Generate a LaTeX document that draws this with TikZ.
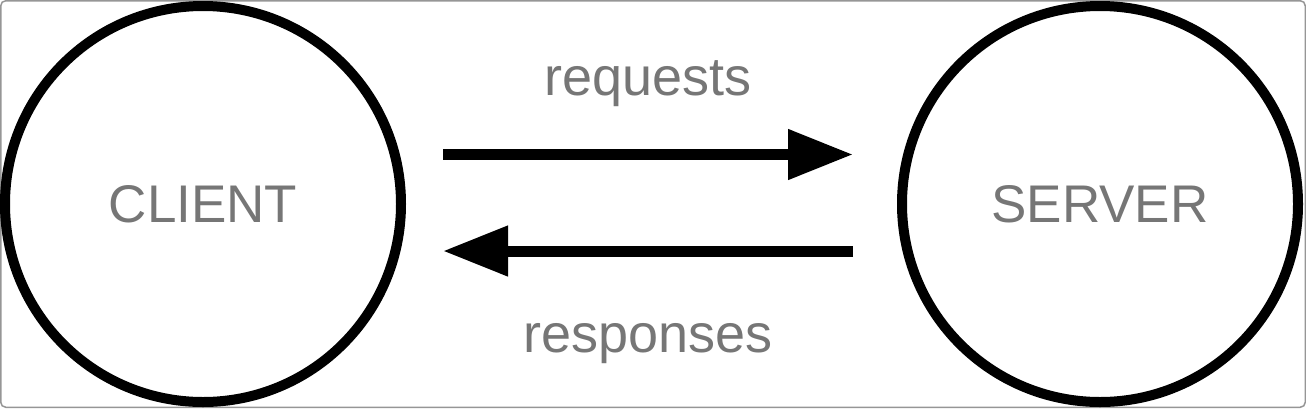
\documentclass[tikz,border=0pt]{standalone}
\usepackage{fontspec}
\setmainfont{Liberation Sans}
\usetikzlibrary{arrows.meta}
\definecolor{txtgray}{RGB}{118,118,118}
\definecolor{framegray}{RGB}{150,150,150}
\tikzset{
  party/.style={circle, draw=black, line width=10pt, minimum size=396pt, inner sep=0pt,
    text=txtgray, font=\fontsize{53pt}{60pt}\selectfont},
  msg/.style={text=txtgray, font=\fontsize{54pt}{60pt}\selectfont, anchor=base, inner sep=0pt},
  flow/.style={line width=11pt, -{Triangle[length=65pt,width=48pt]}}
}
\begin{document}
\begin{tikzpicture}[x=1pt,y=-1pt]
\useasboundingbox (0,0) rectangle (1306,408);
\draw[framegray, line width=1.5pt, rounded corners=5pt] (0.75,0.75) rectangle (1305.25,407.25);
\node[party] (client) at (203,204) {CLIENT};
\node[party] (server) at (1100,204) {SERVER};
\coordinate (reqA) at (443,154.5);
\coordinate (reqB) at (853,154.5);
\coordinate (resA) at (853,251);
\coordinate (resB) at (443,251);
\draw[flow] (reqA) -- (reqB);
\draw[flow] (resA) -- (resB);
\node[msg] (req) at (648,95) {requests};
\node[msg] (res) at (648,352) {responses};
\end{tikzpicture}
\end{document}
